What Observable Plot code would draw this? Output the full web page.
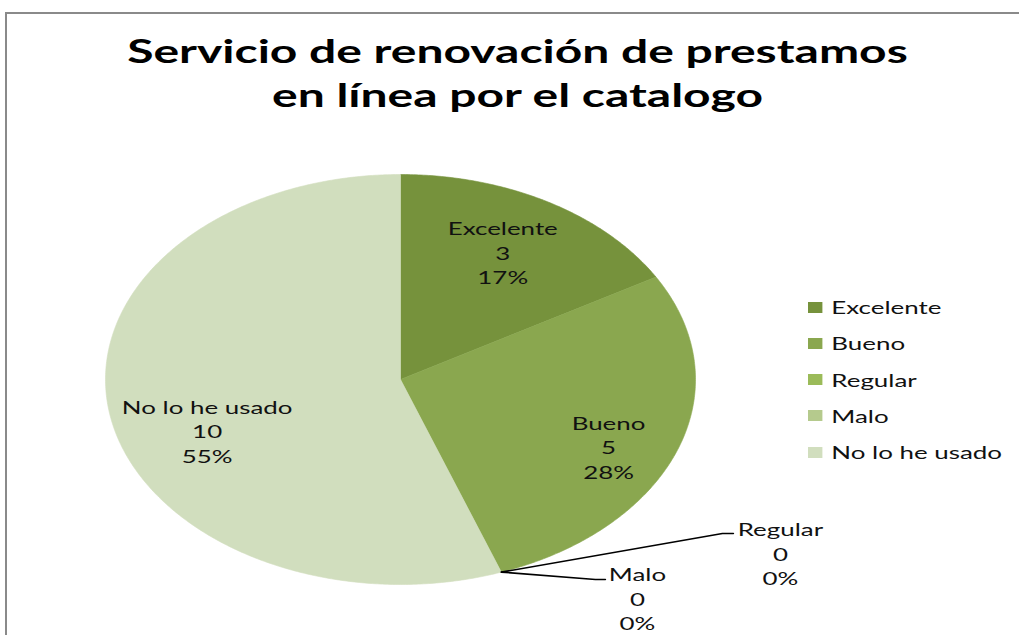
<!DOCTYPE html>
<html>
<head>
<meta charset="utf-8">
<script src="https://cdn.jsdelivr.net/npm/d3@7"></script>
<script src="https://cdn.jsdelivr.net/npm/@observablehq/plot@0.6"></script>
<style>
  html, body { margin: 0; padding: 0; background: #fff; overflow: hidden; }
  #wrap { position: relative; width: 1019px; height: 635px; overflow: hidden; }
  #chart { position: absolute; left: 0; top: 0; }
  #frame { position: absolute; left: 5px; top: 12px; width: 1100px; height: 700px;
           border-top: 2px solid #8a8a8a; border-left: 2px solid #8a8a8a; }
  #legend { position: absolute; left: 808px; top: 289px; transform: scaleX(1.44); transform-origin: 0 0;
            font-family: Lato, "Open Sans", sans-serif; font-size: 18px; color: #111; white-space: nowrap; }
  #legend .row { height: 36.25px; display: flex; align-items: center; }
  #legend .sw { width: 10.4px; height: 11px; margin-right: 5.8px; flex: none; }
</style>
</head>
<body>
<div id="wrap">
  <div id="chart"></div>
  <div id="frame"></div>
  <div id="legend"></div>
</div>
<script>
// ---- data ----
const categories = ["Excelente", "Bueno", "Regular", "Malo", "No lo he usado"];
const counts = [3, 5, 0, 0, 10];
const percentLabels = ["17%", "28%", "0%", "0%", "55%"];
const colors = ["#76923C", "#8AA74F", "#9BBB59", "#B5CA8D", "#D1DEBE"];
const titleLines = ["Servicio de renovación de prestamos", "en línea por el catalogo"];

// ---- layout ----
const W = 1019, H = 635;
const CX = 400, CY = 379, RX = 295, RY = 205;   // pie centre and radii in pixels (stretched picture)
const TEXT_SX = 1.44, TITLE_SX = 1.5;            // horizontal stretch of the original picture
const LABEL_R = 0.7;
const LABEL_LIFT = 6;
const insideNudge = {"Excelente": [-1, 31.5], "Bueno": [14, 10], "No lo he usado": [10, 2]};
const outsideLayout = {
  "Regular": {elbow: [221, 38.6], end: [232, 38.6], text: [279, 47.4]},
  "Malo":    {elbow: [94, -7.4],  end: [104, -7.4], text: [136, 2.4]}
};

// ---- derived geometry from values ----
const total = d3.sum(counts);
let acc = 0;
const slices = categories.map((cat, i) => {
  const a0 = acc / total * 2 * Math.PI;
  acc += counts[i];
  const a1 = acc / total * 2 * Math.PI;
  return {cat, value: counts[i], pct: percentLabels[i], a0, a1, mid: (a0 + a1) / 2};
});

const piePts = [];
slices.filter(s => s.value > 0).forEach(s => {
  const n = Math.max(2, Math.ceil((s.a1 - s.a0) / (Math.PI / 360)));
  piePts.push({cat: s.cat, x: 0, y: 0});
  for (let k = 0; k <= n; k++) {
    const a = s.a0 + (s.a1 - s.a0) * k / n;
    piePts.push({cat: s.cat, x: RX * Math.sin(a), y: RY * Math.cos(a)});
  }
  piePts.push({cat: s.cat, x: 0, y: 0});
});

const insideLabels = slices.filter(s => s.value > 0).map(s => {
  const nd = insideNudge[s.cat] || [0, 0];
  return {
    x: LABEL_R * RX * Math.sin(s.mid) + nd[0],
    y: LABEL_R * RY * Math.cos(s.mid) + nd[1] + LABEL_LIFT,
    text: `${s.cat}\n${s.value}\n${s.pct}`
  };
});

const leaderPts = [];
const outsideLabels = [];
slices.filter(s => s.value === 0).forEach(s => {
  const L = outsideLayout[s.cat];
  const ex = RX * Math.sin(s.mid), ey = RY * Math.cos(s.mid);
  leaderPts.push({cat: s.cat, x: ex, y: ey});
  leaderPts.push({cat: s.cat, x: ex + L.elbow[0], y: ey + L.elbow[1]});
  leaderPts.push({cat: s.cat, x: ex + L.end[0], y: ey + L.end[1]});
  outsideLabels.push({x: ex + L.text[0], y: ey + L.text[1] + LABEL_LIFT, text: `${s.cat}\n${s.value}\n${s.pct}`});
});

const font = "Lato, 'Open Sans', sans-serif";

const chart = Plot.plot({
  width: W, height: H, margin: 0,
  x: {domain: [-RX, RX], range: [CX - RX, CX + RX], axis: null},
  y: {domain: [-RY, RY], range: [CY + RY, CY - RY], axis: null},
  color: {type: "ordinal", domain: categories, range: colors},
  style: {fontFamily: font, background: "white", overflow: "hidden"},
  marks: [
    Plot.line(piePts, {x: "x", y: "y", z: "cat", fill: "cat", stroke: "cat", strokeWidth: 0.6, curve: "linear"}),
    Plot.line(leaderPts, {x: "x", y: "y", z: "cat", stroke: "#000", strokeWidth: 1.6}),
    Plot.text(insideLabels, {x: "x", y: "y", text: "text", lineAnchor: "top", fontSize: 18, lineHeight: 1.36, fill: "#111", textAnchor: "middle"}),
    Plot.text(outsideLabels, {x: "x", y: "y", text: "text", lineAnchor: "top", fontSize: 18, lineHeight: 1.36, fill: "#111", textAnchor: "middle"}),
    Plot.text([titleLines.join("\n")], {frameAnchor: "top", dx: 7.5, dy: 31, lineAnchor: "top", fontSize: 32, fontWeight: "bold", lineHeight: 1.375, fill: "#000", textAnchor: "middle", className: "title-text"})
  ]
});

// stretch text horizontally like the original picture
chart.querySelectorAll("text").forEach(t => {
  const isTitle = t.closest(".title-text") !== null || /catalogo/.test(t.textContent);
  const sx = isTitle ? TITLE_SX : TEXT_SX;
  const tr = t.getAttribute("transform");
  if (tr && /translate/.test(tr)) {
    t.setAttribute("transform", tr + ` scale(${sx},1)`);
  } else {
    const x = +(t.getAttribute("x") || 0);
    t.setAttribute("transform", `translate(${x},0) scale(${sx},1) translate(${-x},0)` + (tr ? " " + tr : ""));
  }
});

document.getElementById("chart").appendChild(chart);

// legend
const legend = d3.select("#legend");
categories.forEach((c, i) => {
  const row = legend.append("div").attr("class", "row");
  row.append("div").attr("class", "sw").style("background", colors[i]);
  row.append("span").text(c);
});
</script>
</body>
</html>
